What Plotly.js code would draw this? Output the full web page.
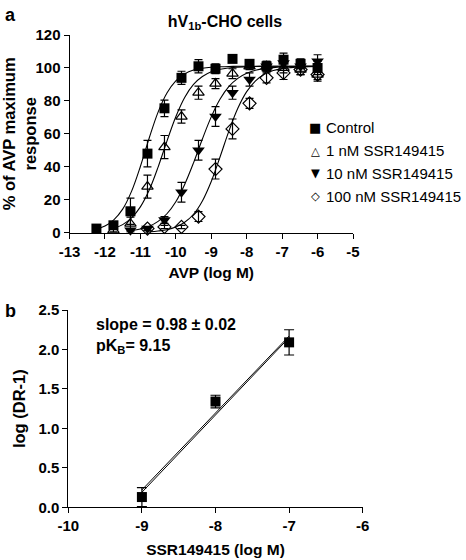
<!DOCTYPE html>
<html>
<head>
<meta charset="utf-8">
<script src="https://cdn.plot.ly/plotly-3.0.1.min.js"></script>
<style>html,body{margin:0;padding:0;background:#fff;}#chart{width:466px;height:560px;}</style>
</head>
<body>
<div id="chart"></div>
<script>
// ---- Panel a: concentration-response data ----
const avpConc = [-12.24, -11.76, -11.28, -10.8, -10.32, -9.84, -9.36, -8.88, -8.4, -7.92, -7.44, -6.96, -6.48, -6.0];
const controlResp = [2.5, 4.5, 13, 48, 75.5, 94, 101, 99.5, 105.5, 102.5, 101, 105, 102.5, 100];
const controlErr  = [1, 1.5, 8, 8, 5, 4, 4, 3, 1, 2, 3, 4, 3, 4];
const nM1Conc = avpConc.slice(1);
const nM1Resp = [1.5, 5.5, 28, 52, 70.5, 85, 90.5, 96.5, 101, 101, 100, 99, 96];
const nM1Err  = [1, 4, 7, 7, 4, 4, 3, 3, 2, 2, 3, 3, 4];
const nM10Conc = avpConc.slice(2);
const nM10Resp = [1.5, 2.5, 7.7, 24.6, 50, 70.5, 85, 93, 101, 103, 101, 104];
const nM10Err  = [1, 1, 2, 6, 6, 6, 4, 4, 3, 3, 3, 4];
const nM100Conc = avpConc.slice(3);
const nM100Resp = [2.5, 3.5, 3.5, 9.8, 38.6, 63, 78.5, 94, 97, 99, 96];
const nM100Err  = [1, 1, 1, 3, 6, 6, 3, 3, 4, 3, 3];

// fitted curves
const curveX = [-12.25,-12,-11.75,-11.5,-11.25,-11,-10.75,-10.5,-10.25,-10,-9.75,-9.5,-9.25,-9,-8.75,-8.5,-8.25,-8,-7.75,-7.5,-7.25,-7,-6.75,-6.5,-6.25,-6];
const controlFit = [2.0,4.0,7.8,14.3,25.1,40.2,57.5,73.2,84.8,92.2,96.4,98.7,99.8,100.4,100.7,100.9,101,101,101,101,101,101,101,101,101,101];
const nM1Fit   = [null,null,2.7,4.9,9.0,15.7,25.9,39.8,55.6,70.4,82.1,90.0,94.8,97.7,99.2,100.0,100.5,100.7,100.9,101,101,101,101,101,101,101];
const nM10Fit  = [null,null,null,null,1.3,2.2,3.9,6.9,11.5,18.8,29.3,42.4,56.9,70.3,81.1,88.8,93.7,96.8,98.6,99.6,100.2,100.6,100.8,100.9,101,101];
const nM100Fit = [null,null,null,null,null,null,0.5,1.0,1.8,3.4,6.3,11.2,19.3,31.1,46.1,61.8,75.5,85.6,92.2,96.2,98.4,99.6,100.2,100.6,100.8,100.9];

const seriesNames = ['Control', '1 nM SSR149415', '10 nM SSR149415', '100 nM SSR149415'];
const seriesGlyphs = ['\u25A0', '\u25B3', '\u25BC', '\u25C7'];
const topXTicks = [-13, -12, -11, -10, -9, -8, -7, -6, -5];
const topXTickText = ['-13', '-12', '-11', '-10', '-9', '-8', '-7', '-6', '-5'];
const topYTicks = [0, 20, 40, 60, 80, 100, 120];

// ---- Panel b: Schild plot ----
const ssrConc = [-9, -8, -7];
const logDR = [0.13, 1.34, 2.09];
const logDRErr = [0.12, 0.08, 0.16];
const schildFitX = [-9, -7];
const schildFitA = [0.19, 2.15];
const schildFitB = [0.22, 2.17];
const botXTicks = [-10, -9, -8, -7, -6];
const botXTickText = ['-10', '-9', '-8', '-7', '-6'];
const botYTicks = [0, 0.5, 1.0, 1.5, 2.0, 2.5];
const botYTickText = ['0.0', '0.5', '1.0', '1.5', '2.0', '2.5'];

// ---- helpers for layout placement (pixel -> paper) ----
const W = 466, H = 560;
const px = v => v / W;
const py = v => 1 - v / H;
const FONT = 'Liberation Sans, Arial, sans-serif';

function errBar(arr, w) {
  return {type: 'data', array: arr, visible: true, color: '#000', thickness: 1.2, width: w};
}
function pts(x, y, err, name, symbol, size, lw) {
  return {
    x: x, y: y, type: 'scatter', mode: 'markers', name: name, showlegend: false,
    xaxis: 'x', yaxis: 'y', cliponaxis: false,
    marker: {symbol: symbol, size: size, color: '#000', line: {color: '#000', width: lw}},
    error_y: errBar(err, 4)
  };
}
function curve(y) {
  return {x: curveX, y: y, type: 'scatter', mode: 'lines', showlegend: false,
    xaxis: 'x', yaxis: 'y', line: {color: '#000', width: 1.1, shape: 'spline'}, hoverinfo: 'skip'};
}

const traces = [
  curve(controlFit), curve(nM1Fit), curve(nM10Fit), curve(nM100Fit),
  pts(avpConc, controlResp, controlErr, seriesNames[0], 'square', 10, 0),
  pts(nM1Conc, nM1Resp, nM1Err, seriesNames[1], 'triangle-up-open', 10, 1.2),
  pts(nM10Conc, nM10Resp, nM10Err, seriesNames[2], 'triangle-down', 11, 0),
  pts(nM100Conc, nM100Resp, nM100Err, seriesNames[3], 'diamond-open', 10, 1.2),
  {x: schildFitX, y: schildFitA, type: 'scatter', mode: 'lines', showlegend: false,
   xaxis: 'x2', yaxis: 'y2', line: {color: '#000', width: 1}},
  {x: schildFitX, y: schildFitB, type: 'scatter', mode: 'lines', showlegend: false,
   xaxis: 'x2', yaxis: 'y2', line: {color: '#000', width: 1}},
  {x: ssrConc, y: logDR, type: 'scatter', mode: 'markers', showlegend: false,
   xaxis: 'x2', yaxis: 'y2', cliponaxis: false,
   marker: {symbol: 'square', size: 10, color: '#000'}, error_y: errBar(logDRErr, 5)}
];

const tickFont = {family: FONT, size: 15, color: '#000', weight: 'bold'};
const titleFont = {family: FONT, size: 15.5, color: '#000', weight: 'bold'};
const axisBase = {
  showline: true, linecolor: '#000', linewidth: 1, ticks: 'outside', ticklen: 5,
  tickcolor: '#000', tickwidth: 1, showgrid: false, zeroline: false, tickfont: tickFont,
  fixedrange: true, automargin: false
};

function ann(text, x, y, opts) {
  return Object.assign({text: text, x: px(x), y: py(y), xref: 'paper', yref: 'paper',
    xanchor: 'center', yanchor: 'middle', showarrow: false,
    font: {family: FONT, size: 16, color: '#000', weight: 'bold'}}, opts || {});
}

// legend drawn as text rows (glyph + label)
const legendRowsY = [128, 150.5, 173, 196];
const legendAnns = [];
seriesNames.forEach((name, i) => {
  legendAnns.push(ann(seriesGlyphs[i], 315, legendRowsY[i],
    {font: {family: 'DejaVu Sans, sans-serif', size: i === 0 ? 13 : 11.5, color: '#000'}}));
  legendAnns.push(ann(name, 324, legendRowsY[i],
    {xanchor: 'left', font: {family: FONT, size: 15, color: '#000'}}));
});

const layout = {
  width: W, height: H, margin: {l: 0, r: 0, t: 0, b: 0},
  paper_bgcolor: '#fff', plot_bgcolor: '#fff',
  font: {family: FONT, color: '#000'},
  showlegend: false,
  title: {text: 'hV<sub>1b</sub>-CHO cells', x: px(225), y: py(21), xref: 'paper', yref: 'container',
    xanchor: 'center', yanchor: 'middle', font: {family: FONT, size: 16, color: '#000', weight: 'bold'}},
  xaxis: Object.assign({}, axisBase, {domain: [px(69.5), px(353)], range: [-13, -5],
    tickvals: topXTicks, ticktext: topXTickText, anchor: 'y',
    title: {text: 'AVP (log M)', font: titleFont, standoff: 8}}),
  yaxis: Object.assign({}, axisBase, {domain: [py(232.7), py(35)], range: [0, 120],
    tickvals: topYTicks, anchor: 'x',
    title: {text: '% of AVP maximum<br>response', font: Object.assign({}, titleFont, {size: 16.5}), standoff: 4}}),
  xaxis2: Object.assign({}, axisBase, {domain: [px(68.3), px(362.7)], range: [-10, -6],
    tickvals: botXTicks, ticktext: botXTickText, anchor: 'y2',
    title: {text: 'SSR149415 (log M)', font: titleFont, standoff: 10}}),
  yaxis2: Object.assign({}, axisBase, {domain: [py(507.3), py(310)], range: [0, 2.5],
    tickvals: botYTicks, ticktext: botYTickText, anchor: 'x2',
    title: {text: 'log (DR-1)', font: Object.assign({}, titleFont, {size: 16.5}), standoff: 8}}),
  annotations: [
    ann('a', 3, 15, {xanchor: 'left', font: {family: FONT, size: 18, color: '#000', weight: 'bold'}}),
    ann('b', 3, 311, {xanchor: 'left', font: {family: FONT, size: 18, color: '#000', weight: 'bold'}}),
    ann('slope = 0.98 ± 0.02', 94, 324, {xanchor: 'left'}),
    ann('pK<sub>B</sub>= 9.15', 94, 346, {xanchor: 'left'})
  ].concat(legendAnns)
};

Plotly.newPlot('chart', traces, layout, {displayModeBar: false, staticPlot: true});
</script>
</body>
</html>
